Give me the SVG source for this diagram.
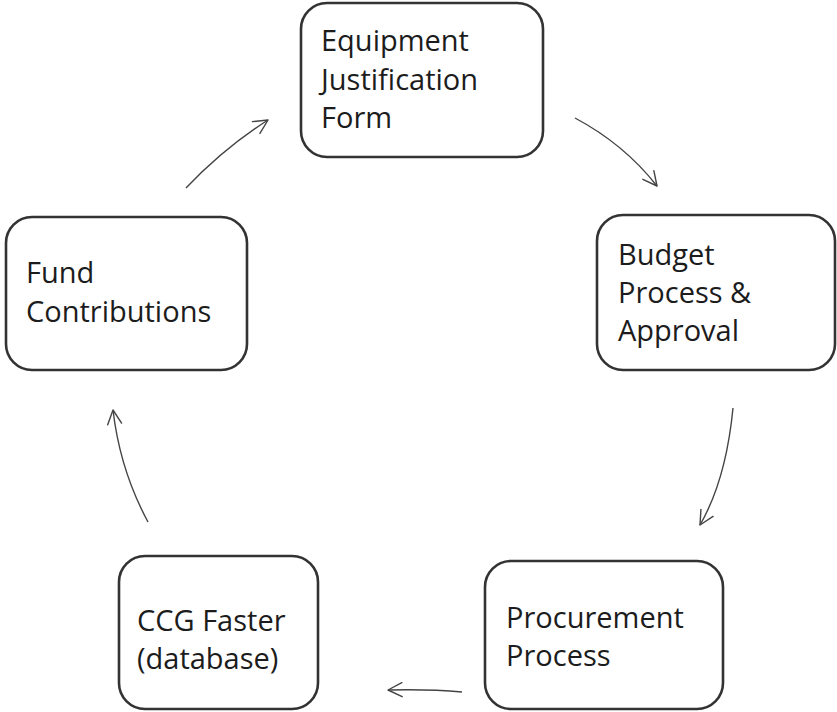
<svg xmlns="http://www.w3.org/2000/svg" width="837" height="712" viewBox="0 0 837 712">
<defs>
<marker id="ah" viewBox="0 0 16 16" refX="15" refY="8" markerWidth="16" markerHeight="16" markerUnits="userSpaceOnUse" orient="auto">
<path d="M1,1 L15,8 L1,15" fill="none" stroke="#444" stroke-width="1.4" stroke-linecap="round" stroke-linejoin="round"/>
</marker>
<style>
.box{fill:#fff;stroke:#333;stroke-width:2.6}
.t{font-family:"Open Sans","DejaVu Sans",sans-serif;font-size:29px;fill:#1c1c1c}
.c{fill:none;stroke:#444;stroke-width:1.4;marker-end:url(#ah)}
</style>
</defs>
<rect width="837" height="712" fill="#fff"/>
<g id="connectors">
<path class="c" d="M186,188 Q224,148 268,120"/>
<path class="c" d="M575,118 Q624,144 657,186"/>
<path class="c" d="M733,408 Q726,480 700,525"/>
<path class="c" d="M462,692 Q430,689 388,690"/>
<path class="c" d="M148,522 Q120,470 113,410"/>
</g>
<g id="equipment">
<rect class="box" x="301" y="3" width="242" height="154" rx="26"/>
<text class="t" x="321" y="51">Equipment</text>
<text class="t" x="321" y="90">Justification</text>
<text class="t" x="321" y="128">Form</text>
</g>
<g id="budget">
<rect class="box" x="597" y="215" width="238" height="155" rx="26"/>
<text class="t" x="618" y="265">Budget</text>
<text class="t" x="618" y="303">Process &amp;</text>
<text class="t" x="618" y="341">Approval</text>
</g>
<g id="procurement">
<rect class="box" x="485" y="561" width="238" height="148" rx="26"/>
<text class="t" x="506" y="628">Procurement</text>
<text class="t" x="506" y="666">Process</text>
</g>
<g id="ccg">
<rect class="box" x="119" y="556" width="199" height="153" rx="26"/>
<text class="t" x="137" y="631">CCG Faster</text>
<text class="t" x="137" y="669">(database)</text>
</g>
<g id="fund">
<rect class="box" x="6" y="217" width="241" height="153" rx="26"/>
<text class="t" x="26" y="283">Fund</text>
<text class="t" x="26" y="322">Contributions</text>
</g>
</svg>
